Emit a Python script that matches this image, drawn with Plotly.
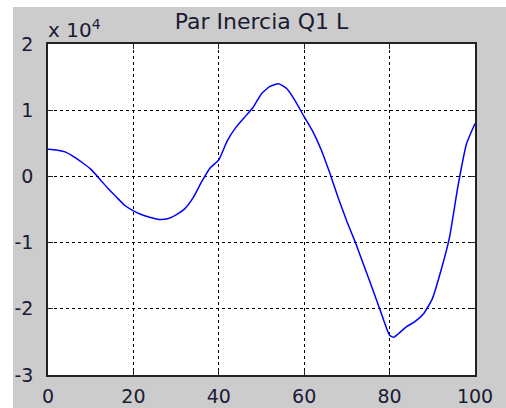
import plotly.graph_objects as go

# Inertia torque Q1 L, in units of 1e4
t = [0, 2, 4, 6, 8, 10, 12, 14, 16, 18, 20, 22, 24, 26, 28, 30, 32, 34, 36, 38,
     40, 42, 44, 46, 48, 50, 52, 54, 56, 58, 60, 62, 64, 66, 68, 70, 72, 74, 76,
     78, 80, 81, 82, 84, 86, 88, 90, 92, 94, 96, 98, 100]
par = [0.41, 0.40, 0.37, 0.30, 0.21, 0.11, -0.03, -0.18, -0.31, -0.44, -0.52,
       -0.58, -0.62, -0.65, -0.64, -0.58, -0.49, -0.32, -0.08, 0.13, 0.25, 0.54,
       0.74, 0.89, 1.04, 1.25, 1.36, 1.40, 1.32, 1.13, 0.90, 0.68, 0.40, 0.05,
       -0.33, -0.68, -1.00, -1.35, -1.70, -2.06, -2.40, -2.43, -2.38, -2.27,
       -2.19, -2.07, -1.85, -1.43, -0.93, -0.15, 0.49, 0.80]

x_ticks = [0, 20, 40, 60, 80, 100]
y_ticks = [-3, -2, -1, 0, 1, 2]
y_tick_labels = ["-3", "-2", "-1", "0", "1", "2"]

title_text = "Par Inercia Q1 L"
exponent_text = "x 10<sup>4</sup>"

FONT = "DejaVu Sans, Arial, sans-serif"
TXT = "#1a1a33"

fig = go.Figure()
fig.add_trace(go.Scatter(x=t, y=par, mode="lines",
                         line=dict(color="#0000ff", width=1.5, shape="spline", smoothing=0.5),
                         hoverinfo="skip"))

axis_common = dict(
    showline=True, linecolor="#222222", linewidth=1.5, mirror="ticks",
    ticks="inside", ticklen=5, tickcolor="#222222",
    showgrid=True, gridcolor="#000000", gridwidth=1, griddash="3px,3px",
    zeroline=False, automargin=False,
    tickfont=dict(family=FONT, size=19, color=TXT),
)

fig.update_xaxes(range=[0, 100], tickvals=x_ticks, ticklabelstandoff=3, **axis_common)
fig.update_yaxes(range=[-3, 2], tickvals=y_ticks, ticktext=y_tick_labels,
                 ticklabelstandoff=9, **axis_common)

# white strips along the left and top edges of the window
fig.add_shape(type="rect", xref="paper", yref="paper", x0=-0.2, x1=-0.082,
              y0=-0.3, y1=1.3, fillcolor="white", line_width=0, layer="below")
fig.add_shape(type="rect", xref="paper", yref="paper", x0=-0.2, x1=1.2,
              y0=1.1118, y1=1.3, fillcolor="white", line_width=0, layer="below")

fig.add_annotation(text=exponent_text, xref="paper", yref="paper",
                   x=-0.004, y=1.0, xanchor="left", yanchor="bottom",
                   showarrow=False, font=dict(family=FONT, size=20, color=TXT))

fig.update_layout(
    width=506, height=408,
    margin=dict(l=48, r=31, t=44, b=33),
    paper_bgcolor="#cccccc", plot_bgcolor="white",
    showlegend=False,
    title=dict(text=title_text, x=0.5, xref="paper", y=1 - 21 / 408,
               yanchor="middle",
               font=dict(family=FONT, size=22, color=TXT)),
)

fig.write_html("out.html")
